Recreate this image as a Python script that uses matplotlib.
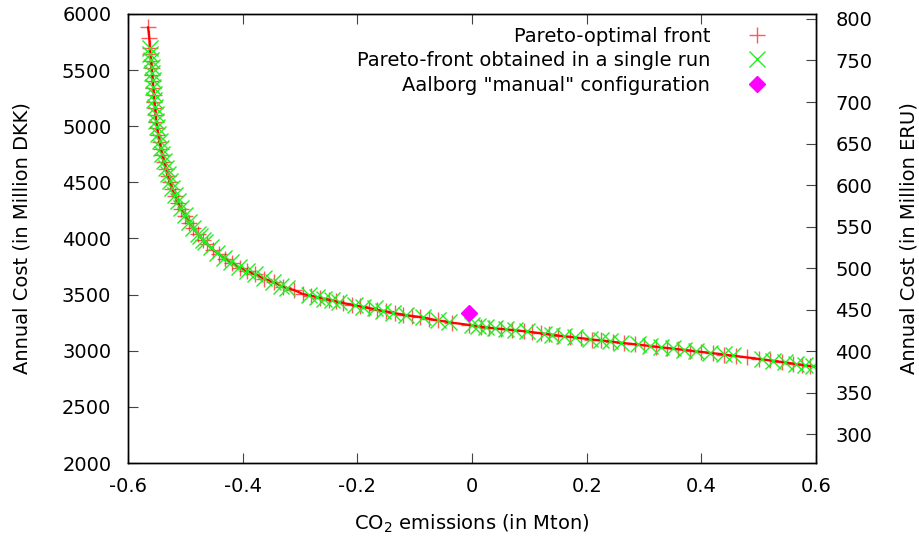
import numpy as np
import matplotlib.pyplot as plt

# Pareto-optimal front: CO2 emissions (Mton) vs annual cost (million DKK)
front_co2 = [-0.565, -0.563, -0.562, -0.561, -0.560, -0.559, -0.558, -0.557, -0.556, -0.555,
             -0.554, -0.553, -0.552, -0.551, -0.549, -0.547, -0.545, -0.543, -0.540, -0.537,
             -0.534, -0.531, -0.527, -0.523, -0.518, -0.513, -0.507, -0.500, -0.493, -0.486,
             -0.478, -0.470, -0.462, -0.452, -0.442, -0.430, -0.418, -0.405, -0.392, -0.378,
             -0.362, -0.345, -0.330, -0.310, -0.295, -0.280, -0.265, -0.250, -0.238, -0.225,
             -0.210, -0.195, -0.180, -0.165, -0.150, -0.135, -0.120, -0.105, -0.090, -0.075,
             -0.060, -0.035, -0.005, 0.015, 0.030, 0.050, 0.070, 0.090, 0.105, 0.120,
             0.135, 0.150, 0.170, 0.190, 0.210, 0.225, 0.245, 0.265, 0.285, 0.300,
             0.320, 0.340, 0.360, 0.380, 0.400, 0.420, 0.440, 0.460, 0.480, 0.500,
             0.520, 0.540, 0.560, 0.575, 0.590]
front_cost = [5880, 5790, 5700, 5640, 5580, 5520, 5460, 5400, 5340, 5280,
              5220, 5160, 5100, 5040, 4980, 4920, 4860, 4800, 4740, 4680,
              4620, 4560, 4500, 4440, 4380, 4320, 4260, 4200, 4140, 4090,
              4040, 3990, 3950, 3900, 3860, 3820, 3780, 3740, 3710, 3680,
              3640, 3610, 3570, 3540, 3505, 3490, 3470, 3455, 3440, 3425,
              3410, 3395, 3380, 3365, 3350, 3335, 3320, 3310, 3300, 3285,
              3270, 3250, 3230, 3215, 3205, 3195, 3185, 3175, 3165, 3155,
              3145, 3135, 3125, 3112, 3100, 3092, 3080, 3068, 3057, 3048,
              3037, 3025, 3013, 3002, 2990, 2978, 2966, 2953, 2940, 2927,
              2914, 2900, 2886, 2875, 2862]

# front obtained in one single optimisation run
run_co2 = [-0.562, -0.561, -0.560, -0.559, -0.558, -0.557, -0.556, -0.555, -0.554, -0.553,
           -0.552, -0.551, -0.549, -0.547, -0.545, -0.543, -0.540, -0.537, -0.534, -0.531,
           -0.527, -0.523, -0.518, -0.513, -0.507, -0.500, -0.493, -0.486, -0.478, -0.470,
           -0.475, -0.466, -0.456, -0.445, -0.433, -0.420, -0.406, -0.392, -0.378, -0.363,
           -0.348, -0.333, -0.322, -0.285, -0.270, -0.258, -0.245, -0.232, -0.205, -0.190,
           -0.170, -0.155, -0.138, -0.115, -0.085, -0.060, -0.040, 0.000, 0.010, 0.025,
           0.040, 0.060, 0.075, 0.095, 0.125, 0.140, 0.160, 0.180, 0.205, 0.225,
           0.240, 0.260, 0.290, 0.310, 0.330, 0.350, 0.370, 0.390, 0.415, 0.440,
           0.455, 0.505, 0.525, 0.545, 0.565, 0.580, 0.595]
run_cost = [5700, 5640, 5590, 5530, 5470, 5410, 5350, 5290, 5230, 5170,
            5110, 5050, 4990, 4930, 4870, 4810, 4750, 4690, 4630, 4570,
            4510, 4450, 4390, 4330, 4270, 4210, 4150, 4095, 4040, 3990,
            4020, 3970, 3920, 3872, 3830, 3787, 3745, 3712, 3682, 3645,
            3616, 3580, 3560, 3497, 3477, 3465, 3451, 3435, 3407, 3392,
            3377, 3357, 3340, 3318, 3297, 3273, 3256, 3228, 3220, 3210,
            3202, 3192, 3183, 3173, 3153, 3143, 3132, 3120, 3105, 3094,
            3085, 3073, 3056, 3044, 3033, 3021, 3010, 2998, 2983, 2968,
            2958, 2925, 2912, 2898, 2884, 2873, 2860]

# Aalborg "manual" configuration
manual_co2 = [-0.005]
manual_cost = [3335]

co2_ticks = [-0.6, -0.4, -0.2, 0, 0.2, 0.4, 0.6]
co2_labels = ["-0.6", "-0.4", "-0.2", "0", "0.2", "0.4", "0.6"]
dkk_ticks = np.arange(2000, 6001, 500)
eru_ticks = np.arange(300, 801, 50)

fs = 14

fig = plt.figure(figsize=(9.19, 5.37), dpi=100)
ax = fig.add_axes([0.1393, 0.1378, 0.7487, 0.8362])

ax.plot(front_co2, front_cost, color="red", lw=1.6, zorder=3)
ax.plot(front_co2, front_cost, ls="none", marker="+", ms=12, mew=1.0,
        color=(1, 0, 0, 0.65), label="Pareto-optimal front", zorder=2)
ax.plot(run_co2, run_cost, ls="none", marker="x", ms=11, mew=1.0,
        color="#22ee22", label="Pareto-front obtained in a single run", zorder=4)
ax.plot(manual_co2, manual_cost, ls="none", marker="D", ms=8,
        color="magenta", label='Aalborg "manual" configuration', zorder=5)

ax.set_xlim(-0.6, 0.6)
ax.set_ylim(2000, 6000)
ax.set_xticks(co2_ticks)
ax.set_xticklabels(co2_labels)
ax.set_yticks(dkk_ticks)
ax.tick_params(axis="both", direction="in", length=7, width=0.8, labelsize=fs,
               color="#444444")
ax.tick_params(axis="x", top=True, pad=10)
ax.tick_params(axis="y", pad=12)
ax.set_xlabel("CO$_2$ emissions (in Mton)", fontsize=fs, labelpad=12)
ax.set_ylabel("Annual Cost (in Million DKK)", fontsize=fs, labelpad=22)

ax2 = ax.twinx()
ax2.set_ylim(265.4, 806)
ax2.set_yticks(eru_ticks)
ax2.tick_params(axis="y", direction="in", length=7, width=0.8, labelsize=fs,
                color="#444444", pad=14)
ax2.set_ylabel("Annual Cost (in Million ERU)", fontsize=fs, labelpad=19)

for a in (ax, ax2):
    for s in a.spines.values():
        s.set_linewidth(1.0)

ax.legend(loc="upper right", bbox_to_anchor=(0.9535, 0.989), frameon=False,
          markerfirst=False, fontsize=fs, handletextpad=1.4, labelspacing=0.28,
          borderpad=0.4, borderaxespad=0)

fig.savefig("out.png", dpi=100)
